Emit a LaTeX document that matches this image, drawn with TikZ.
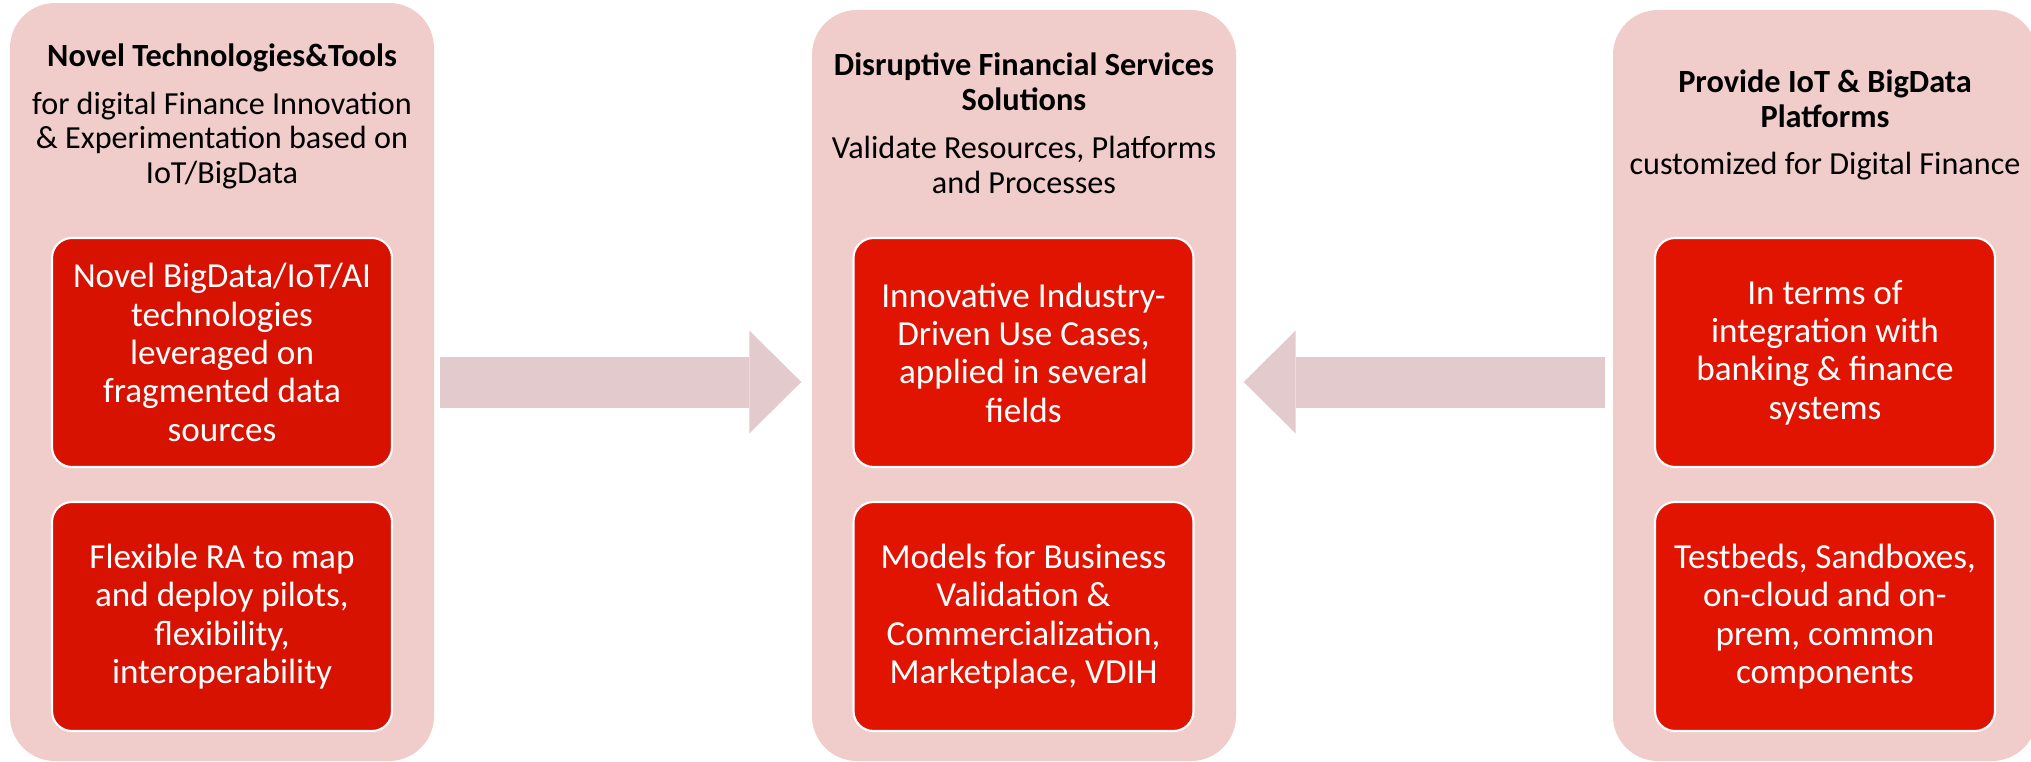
\documentclass[tikz,border=0pt]{standalone}
\usepackage{fontspec}
\setmainfont{Carlito}
\usetikzlibrary{arrows.meta}
\definecolor{panelpink}{HTML}{F0CCCB}
\definecolor{arrowpink}{HTML}{E3CACD}
\definecolor{leftred}{HTML}{D71200}
\definecolor{midred}{HTML}{E01400}

\begin{document}
\begin{tikzpicture}[panel/.style={rectangle,rounded corners=0.45cm,fill=panelpink,minimum width=4.24cm,minimum height=7.51cm,inner sep=0pt},
	redbox/.style={rectangle,rounded corners=0.2cm,draw=white,line width=0.6pt,fill=midred,text=white,minimum width=3.40cm,minimum height=2.29cm,align=center,font=\fontsize{10}{10.9}\selectfont},
	headtext/.style={align=center,anchor=base,font=\fontsize{9.2}{9.95}\selectfont\bfseries},
	subtext/.style={align=center,anchor=base,font=\fontsize{9.15}{9.7}\selectfont},
	bigarrow/.style={draw=arrowpink,line width=0.51cm,-{Triangle[length=0.52cm,width=1.03cm,line width=0pt,fill=arrowpink]}}]
		\useasboundingbox (0,0) rectangle (20.31,-7.62);
		\path (2.22,-3.82) node(lp)[panel,minimum height=7.58cm]{}
		(10.24,-3.855) node(mp)[panel]{}
		(18.25,-3.855) node(rp)[panel]{};
		% texts sit on the baseline of their last line
		\path (2.22,-0.67) node(lhead)[headtext]{Novel Technologies\&Tools}
		(2.22,-1.83) node(lsub)[subtext]{for digital Finance Innovation\\ \& Experimentation based on\\ IoT/BigData}
		(10.24,-1.10) node(mhead)[headtext]{Disruptive Financial Services\\ Solutions}
		(10.24,-1.93) node(msub)[subtext]{Validate Resources, Platforms\\ and Processes}
		(18.25,-1.27) node(rhead)[headtext]{Provide IoT \& BigData\\ Platforms}
		(18.25,-1.74) node(rsub)[subtext]{customized for Digital Finance};
		\path (2.22,-3.525) node(l1)[redbox,fill=leftred]{Novel BigData/IoT/AI\\ technologies\\ leveraged on\\ fragmented data\\ sources}
		(2.22,-6.165) node(l2)[redbox,fill=leftred]{Flexible RA to map\\ and deploy pilots,\\ flexibility,\\ interoperability}
		(10.235,-3.525) node(m1)[redbox]{Innovative Industry-\\ Driven Use Cases,\\ applied in several\\ fields}
		(10.235,-6.165) node(m2)[redbox]{Models for Business\\ Validation \&\\ Commercialization,\\ Marketplace, VDIH}
		(18.25,-3.525) node(r1)[redbox]{In terms of\\ integration with\\ banking \& finance\\ systems}
		(18.25,-6.165) node(r2)[redbox]{Testbeds, Sandboxes,\\ on-cloud and on-\\ prem, common\\ components};
		\draw [bigarrow,shorten <=0.05cm,shorten >=0.10cm] (lp.east) to (lp.east -| mp.west);
		\draw [bigarrow,shorten <=0.07cm,shorten >=0.07cm] (rp.west |- lp.east) to (mp.east |- lp.east);
	\end{tikzpicture}
\end{document}
